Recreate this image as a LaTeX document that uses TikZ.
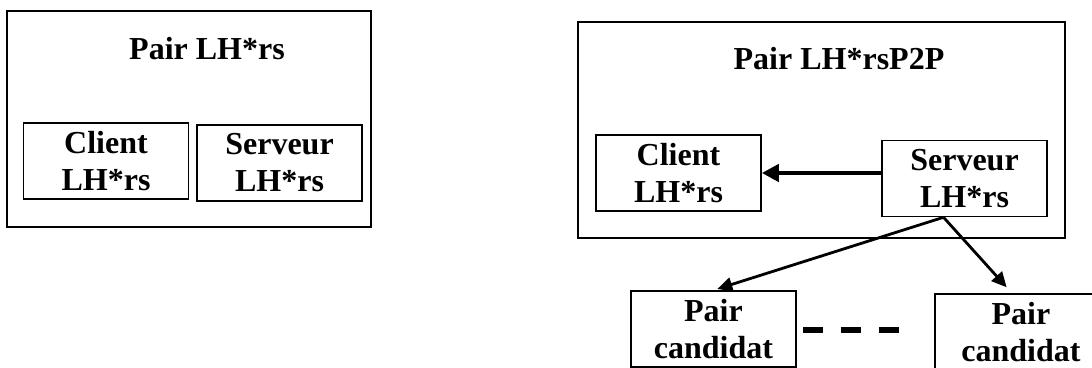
\documentclass[tikz,border=0pt]{standalone}
\usepackage{fontspec}
\setmainfont{Liberation Serif}
\usetikzlibrary{arrows.meta}
\begin{document}
\begin{tikzpicture}[x=1pt,y=-1pt,
  frame/.style={draw, line width=1.6pt, inner sep=0pt},
  unit/.style={draw, line width=1.6pt, inner sep=0pt, minimum width=165pt,
    minimum height=76pt, align=center,
    font=\bfseries\fontsize{32}{37}\selectfont},
  caption/.style={inner sep=0pt, font=\bfseries\fontsize{32}{37}\selectfont},
  bigarrow/.style={line width=4.5pt, -{Triangle[length=17pt,width=17pt]}},
  link/.style={line width=2.8pt, -{Triangle[length=15pt,width=14pt]}}]
\clip (0,0) rectangle (1092,367);
\fill[white] (0,0) rectangle (1092,367);

% plain peer
\node[frame, minimum width=364pt, minimum height=216pt] (pairA) at (189,119) {};
\node[caption] (titleA) at (207,49) {Pair LH*rs};
\node[unit] (clientA) at (106,161) {Client\\LH*rs};
\node[unit] (serveurA) at (279.5,163) {Serveur\\LH*rs};

% P2P peer
\node[frame, minimum width=487pt, minimum height=216pt] (pairB) at (821.5,130) {};
\node[caption] (titleB) at (839,59) {Pair LH*rsP2P};
\node[unit] (clientB) at (678.5,173) {Client\\LH*rs};
\node[unit] (serveurB) at (964.5,178.5) {Serveur\\LH*rs};

% candidate peers
\node[unit] (candA) at (713.5,329) {Pair\\candidat};
\node[unit, minimum width=172pt] (candB) at (1021,332) {Pair\\candidat};

% connections
\draw[bigarrow] (serveurB.west |- clientB.east) -- (clientB.east);
\coordinate (fork) at ([xshift=-21pt]serveurB.south);
\draw[link, shorten >=4pt] (fork) -- (candA.north);
\draw[link, shorten >=8pt] (fork) -- ([xshift=-9pt]candB.north);
\draw[line width=6pt, dash pattern=on 20pt off 18pt, shorten <=6pt, shorten >=32pt]
  ([yshift=-1pt]candA.east) -- ([yshift=-1pt]candB.west |- candA.east);
\end{tikzpicture}
\end{document}
